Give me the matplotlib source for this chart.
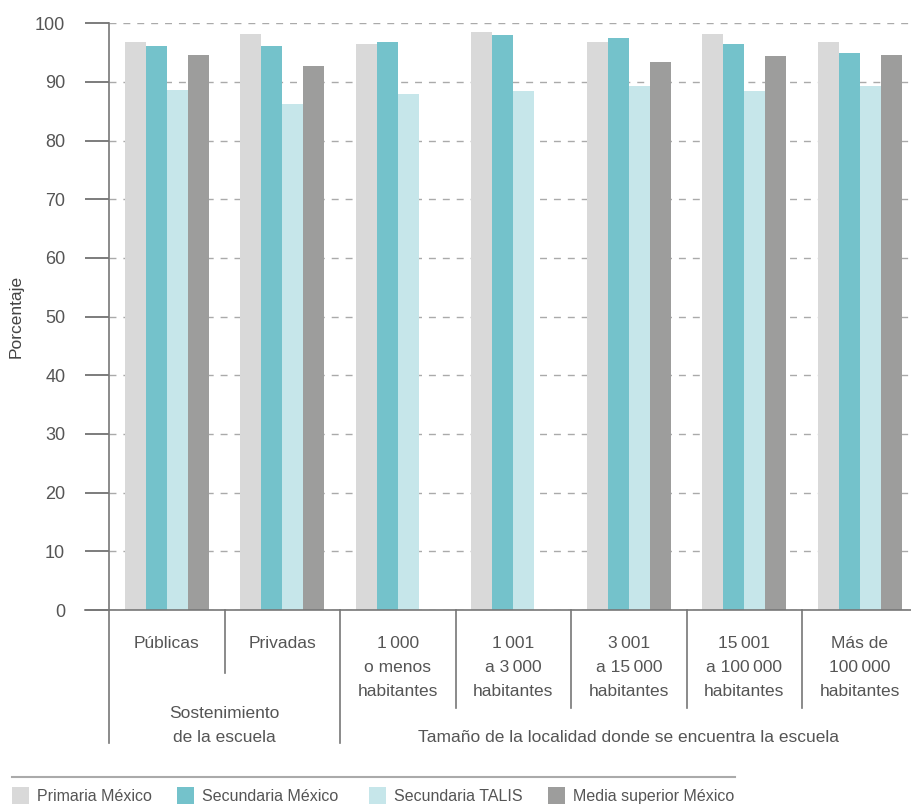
import matplotlib.pyplot as plt
import numpy as np
from matplotlib.patches import Rectangle
from matplotlib.transforms import blended_transform_factory

plt.rcParams['font.family'] = ['Liberation Sans', 'DejaVu Sans']

categorias = ['Públicas', 'Privadas', '1\u2009000\no menos\nhabitantes', '1\u2009001\na 3\u2009000\nhabitantes',
              '3\u2009001\na 15\u2009000\nhabitantes', '15\u2009001\na 100\u2009000\nhabitantes',
              'Más de\n100\u2009000\nhabitantes']
primaria = [96.8, 98.2, 96.5, 98.5, 96.8, 98.2, 96.8]
secundaria = [96.1, 96.1, 96.8, 98.0, 97.5, 96.5, 94.9]
talis = [88.7, 86.3, 87.9, 88.4, 89.3, 88.4, 89.3]
media = [94.6, 92.7, np.nan, np.nan, 93.4, 94.4, 94.6]
series = ['Primaria México', 'Secundaria México', 'Secundaria TALIS', 'Media superior México']
colores = ['#d9d9d9', '#74c2cb', '#c6e6ea', '#9d9d9c']
grupos = ['Sostenimiento\nde la escuela', 'Tamaño de la localidad donde se encuentra la escuela']

W, H = 911, 805
fig = plt.figure(figsize=(W / 100, H / 100), dpi=100)
y0, y1 = 610, 23.3
x0, x1 = 109, 917.5
ax = fig.add_axes((x0 / W, 1 - y0 / H, (x1 - x0) / W, (y0 - y1) / H))

x = np.arange(len(categorias))
w = 0.182
for i, (vals, c) in enumerate(zip([primaria, secundaria, talis, media], colores)):
    ax.bar(x + (i - 1.5) * w, vals, w, color=c, zorder=2, label=series[i])

ax.set_xlim(-0.5, len(categorias) - 0.5)
ax.set_ylim(0, 100)
ax.set_yticks(range(0, 101, 10))
ax.set_xticks([])
ax.yaxis.grid(True, linestyle=(0, (5, 5)), color='#aaaaaa', linewidth=1, zorder=0)
ax.tick_params(axis='y', direction='out', length=17.5, width=1.2, color='#666666',
               labelsize=13, labelcolor='#555555', pad=14)
for s in ['top', 'right', 'left']:
    ax.spines[s].set_visible(False)
ax.spines['bottom'].set_color('#777777')
ax.spines['bottom'].set_linewidth(1.2)
ax.set_ylabel('Porcentaje', fontsize=12.5, color='#444444', labelpad=8)

px = lambda yp: (y0 - yp) / (y0 - y1)
trans = blended_transform_factory(ax.transData, ax.transAxes)
# x-axis line extends left to the tick length
ax.plot([-0.5 - 24 / 115.5, -0.5], [0, 0], transform=trans, color='#777777', lw=1.2, clip_on=False)

# separators below the axis
seps = [(0.5, 673), (1.5, 743), (2.5, 708), (3.5, 708), (4.5, 708), (5.5, 708), (6.5, 743)]
ax.plot([-0.5, -0.5], [1, px(743)], transform=trans, color='#777777', lw=1.2, clip_on=False)
for xs, yb in seps:
    ax.plot([xs, xs], [0, px(yb)], transform=trans, color='#777777', lw=1.2, clip_on=False)

def lineas(xc, ytop, txt):
    for k, ln in enumerate(txt.split('\n')):
        ax.text(xc, px(ytop + 24 * k), ln, transform=trans, ha='center', va='center',
                fontsize=12.5, color='#555555')

for xi, lab in zip(x, categorias):
    lineas(xi, 643, lab)
lineas(0.5, 713, grupos[0])
lineas(4.0, 737, grupos[1])

# legend
fig.add_artist(plt.Line2D([12 / W, 735 / W], [1 - 777 / H, 1 - 777 / H], color='#aaaaaa', lw=1.5))
leg_x = [12, 177, 369, 548]
for lx, c, s in zip(leg_x, colores, series):
    fig.add_artist(Rectangle((lx / W, 1 - 804 / H), 17 / W, 17 / H, transform=fig.transFigure,
                             color=c, lw=0))
    fig.text((lx + 25) / W, 1 - 796 / H, s, fontsize=11.5, color='#555555', va='center')

fig.savefig('out.png', dpi=100)
